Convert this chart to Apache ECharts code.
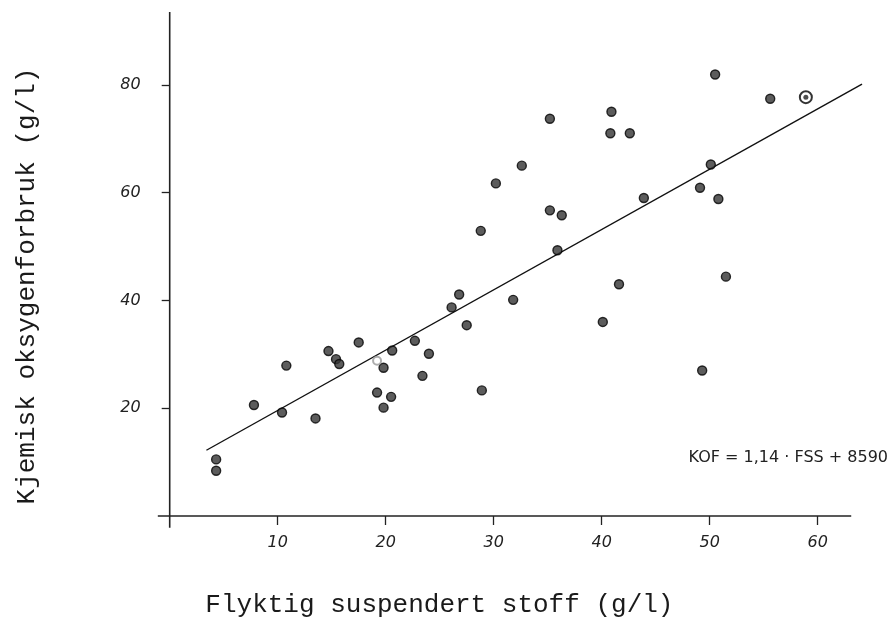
<!DOCTYPE html>
<html>
<head>
<meta charset="utf-8">
<script src="https://cdn.jsdelivr.net/npm/echarts@6/dist/echarts.min.js"></script>
<style>
html,body{margin:0;padding:0;background:#fff;}
#chart{width:893px;height:623px;}
</style>
</head>
<body>
<div id="chart"></div>
<script>
// Data (x = FSS g/l, y = KOF g/l)
const pointsX = [4.3, 4.3, 7.8, 10.4, 10.8, 13.5, 14.7, 15.4, 15.7, 17.5, 19.2, 19.8, 19.8, 20.5, 20.6, 22.7, 23.4, 24.0,
  26.1, 26.8, 27.5, 28.8, 28.9, 30.2, 31.8, 32.6, 35.2, 35.2, 35.9, 36.3, 40.1, 40.8, 40.9, 41.6, 42.6, 43.9,
  49.1, 49.3, 50.1, 50.5, 50.8, 51.5, 55.6];
const pointsY = [10.5, 8.4, 20.6, 19.2, 27.9, 18.1, 30.6, 29.1, 28.2, 32.2, 22.9, 27.5, 20.1, 22.1, 30.7, 32.5, 26.0, 30.1,
  38.7, 41.1, 35.4, 52.9, 23.3, 61.7, 40.1, 65.0, 73.7, 56.7, 49.3, 55.8, 36.0, 71.0, 75.0, 43.0, 71.0, 59.0,
  60.9, 27.0, 65.2, 81.9, 58.8, 44.4, 77.4];
const doublePointX = [58.9];
const doublePointY = [77.7];
const faintPointX = [19.2];
const faintPointY = [28.8];
// regression line end points
const lineX = [3.4, 64.1];
const lineY = [12.2, 80.1];

const xTicks = [10, 20, 30, 40, 50, 60];
const yTicks = [20, 40, 60, 80];
const xName = 'Flyktig suspendert stoff (g/l)';
const yName = 'Kjemisk oksygenforbruk (g/l)';
const equation = 'KOF = 1,14 · FSS + 8590';

const xMin = 0, xMax = 64.2, yMin = 0, yMax = 93.5;
const xLineEnd = 63.1;

function zip(a, b) { return a.map((v, i) => [v, b[i]]); }

const chart = echarts.init(document.getElementById('chart'), null, {renderer: 'canvas'});
const monoFont = '"Liberation Mono", "Courier New", monospace';
const tickFont = {fontFamily: '"DejaVu Sans", sans-serif', fontStyle: 'italic', fontSize: 16, color: '#222'};

chart.setOption({
  animation: false,
  backgroundColor: '#fff',
  grid: {left: 169.7, right: 29.9, top: 12, bottom: 107, containLabel: false},
  xAxis: {
    type: 'value', min: xMin, max: xMax,
    splitLine: {show: false},
    axisLine: {show: false},
    axisTick: {show: true, customValues: xTicks, length: 9, lineStyle: {color: '#222', width: 1.3}},
    axisLabel: {customValues: xTicks, margin: 19, ...tickFont},
    name: xName, nameLocation: 'middle', nameGap: 76,
    nameTextStyle: {fontFamily: monoFont, fontSize: 26, color: '#1a1a1a', padding: [0, 154, 0, 0]}
  },
  yAxis: {
    type: 'value', min: yMin, max: yMax,
    splitLine: {show: false},
    axisLine: {show: false},
    axisTick: {show: true, customValues: yTicks, length: 8, lineStyle: {color: '#222', width: 1.3}},
    axisLabel: {customValues: yTicks, margin: 29, ...tickFont},
    name: yName, nameLocation: 'middle', nameGap: 130, nameRotate: 90,
    nameTextStyle: {fontFamily: monoFont, fontSize: 26, color: '#1a1a1a', padding: [0, 44, 0, 0]}
  },
  series: [
    {
      type: 'line', data: zip(lineX, lineY), symbol: 'none',
      lineStyle: {color: '#111', width: 1.4}, z: 2
    },
    {
      type: 'scatter', data: zip(pointsX, pointsY), symbol: 'circle', symbolSize: 9,
      itemStyle: {color: '#333', borderColor: '#000', borderWidth: 1.4}, z: 3
    },
    {
      type: 'scatter', data: zip(doublePointX, doublePointY), symbol: 'circle', symbolSize: 12,
      itemStyle: {color: '#fff', borderColor: '#000', borderWidth: 2}, z: 3
    },
    {
      type: 'scatter', data: zip(doublePointX, doublePointY), symbol: 'circle', symbolSize: 5,
      itemStyle: {color: '#222'}, z: 4
    },
    {
      type: 'scatter', data: zip(faintPointX, faintPointY), symbol: 'emptyCircle', symbolSize: 8,
      itemStyle: {color: '#999', borderColor: '#999', borderWidth: 1}, z: 3
    }
  ]
});

// Axis lines with their overhang, placed via the chart's own scales
const p0 = chart.convertToPixel({gridIndex: 0}, [0, 0]);
const pxLeft = chart.convertToPixel({gridIndex: 0}, [-1.1, 0]);
const pxRight = chart.convertToPixel({gridIndex: 0}, [xLineEnd, 0]);
const pyBottom = chart.convertToPixel({gridIndex: 0}, [0, -2.2]);
const pyTop = chart.convertToPixel({gridIndex: 0}, [0, yMax]);

chart.setOption({
  graphic: [
    {type: 'line', shape: {x1: pxLeft[0], y1: p0[1], x2: pxRight[0], y2: p0[1]},
     style: {stroke: '#222', lineWidth: 1.6}},
    {type: 'line', shape: {x1: p0[0], y1: pyBottom[1], x2: p0[0], y2: pyTop[1]},
     style: {stroke: '#222', lineWidth: 1.6}},
    {type: 'text', x: 888, y: 458,
     style: {text: equation, fill: '#222', font: '16px "DejaVu Sans", sans-serif', align: 'right', verticalAlign: 'middle'}}
  ]
});
</script>
</body>
</html>
